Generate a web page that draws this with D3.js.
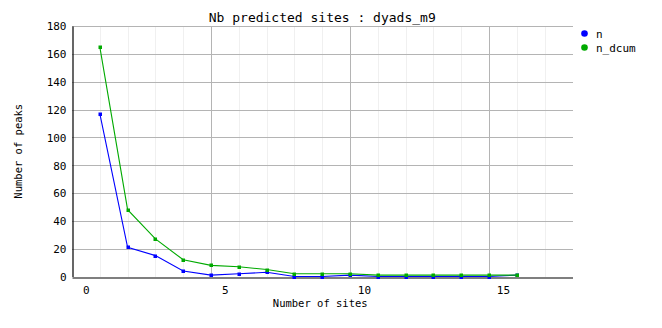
<!DOCTYPE html>
<html><head><meta charset="utf-8">
<script src="https://cdn.jsdelivr.net/npm/d3@7"></script>
<style>
html,body{margin:0;padding:0;background:#fff;}
text{font-family:"DejaVu Sans Mono","Liberation Mono",monospace;fill:#000;}
</style></head>
<body>
<svg id="chart" width="662" height="328"></svg>
<script>
// ---- data ----
const sites = [0,1,2,3,4,5,6,7,8,9,10,11,12,13,14,15];
const nValues = [117,21,15,4,1,2,3,0,0,1,0,0,0,0,0,1];
const nDcumValues = [165,48,27,12,8,7,5,2,2,2,1,1,1,1,1,1];
const xTicks = [0,5,10,15];
const yTicks = [0,20,40,60,80,100,120,140,160,180];
const seriesNames = ["n","n_dcum"];
const seriesColors = ["#0000ff","#00aa00"];
const title = "Nb predicted sites : dyads_m9";
const xTitle = "Number of sites";
const yTitle = "Number of peaks";

const svg = d3.select("#chart");
const L = 72, R = 572.5, T = 26, B = 276.5;
const x = d3.scaleLinear().domain([-0.5,17.5]).range([L,R]);
const y = d3.scaleLinear().domain([0,180]).range([B,T]);
const off = 0.5; // points drawn at the centre of each unit

const g = svg.append("g").attr("shape-rendering","crispEdges");
const minor = d3.range(0,17).map(v=>v+off);
g.selectAll(".vmin").data(minor.filter(v=>(v-off)%5!==4)).enter().append("line")
  .attr("x1",d=>Math.round(x(d))+0.5).attr("x2",d=>Math.round(x(d))+0.5)
  .attr("y1",T).attr("y2",B).attr("stroke","#f0f0f0").attr("stroke-width",1);
g.selectAll(".vmaj").data(minor.filter(v=>(v-off)%5===4)).enter().append("line")
  .attr("x1",d=>Math.round(x(d))+0.5).attr("x2",d=>Math.round(x(d))+0.5)
  .attr("y1",T).attr("y2",B).attr("stroke","#b4b4b4").attr("stroke-width",1);
g.selectAll(".hg").data(yTicks.filter(v=>v>0)).enter().append("line")
  .attr("x1",L).attr("x2",R)
  .attr("y1",d=>Math.round(y(d))+0.5).attr("y2",d=>Math.round(y(d))+0.5)
  .attr("stroke","#b4b4b4").attr("stroke-width",1);

// axes
const yAxis = d3.axisLeft(y).tickValues(yTicks).tickSize(0).tickPadding(6);
const ya = svg.append("g").attr("transform",`translate(${L+0.5},0)`).call(yAxis);
ya.select(".domain").attr("stroke","#000").attr("stroke-width",1.2);
ya.selectAll("text").attr("font-size",11).attr("font-family","DejaVu Sans Mono").attr("dy","0.35em");

const xAxis = d3.axisBottom(x).tickValues(xTicks).tickSize(0).tickPadding(9).tickFormat(d3.format("d"));
const xa = svg.append("g").attr("transform",`translate(0,${Math.round(B)+0.5})`).call(xAxis);
xa.select(".domain").attr("stroke","#000").attr("stroke-width",1.2);
xa.selectAll("text").attr("font-size",11).attr("font-family","DejaVu Sans Mono");

// series
const series = [nValues, nDcumValues];
const line = d3.line().x((d,i)=>x(sites[i]+off)).y(d=>y(d));
series.forEach((vals,k)=>{
  svg.append("path").datum(vals).attr("d",line).attr("fill","none")
    .attr("stroke",seriesColors[k]).attr("stroke-width",1.1);
  svg.selectAll(".p"+k).data(vals).enter().append("rect")
    .attr("x",(d,i)=>Math.round(x(sites[i]+off))-1.5)
    .attr("y",d=>Math.round(y(d))-1.5)
    .attr("width",3.5).attr("height",3.5).attr("fill",seriesColors[k]);
});

// titles
svg.append("text").attr("x",(L+R)/2).attr("y",22).attr("text-anchor","middle")
  .attr("font-size",13).text(title);
svg.append("text").attr("x",(L+R)/2-2).attr("y",307).attr("text-anchor","middle")
  .attr("font-size",10.5).text(xTitle);
svg.append("text").attr("transform",`translate(22,${(T+B)/2}) rotate(-90)`)
  .attr("text-anchor","middle").attr("font-size",10.5).text(yTitle);

// legend
seriesNames.forEach((name,k)=>{
  const ly = 33.5 + k*14;
  svg.append("circle").attr("cx",584.5).attr("cy",ly).attr("r",3.3).attr("fill",seriesColors[k]);
  svg.append("text").attr("x",596).attr("y",ly+4).attr("font-size",11).text(name);
});
</script>
</body></html>
